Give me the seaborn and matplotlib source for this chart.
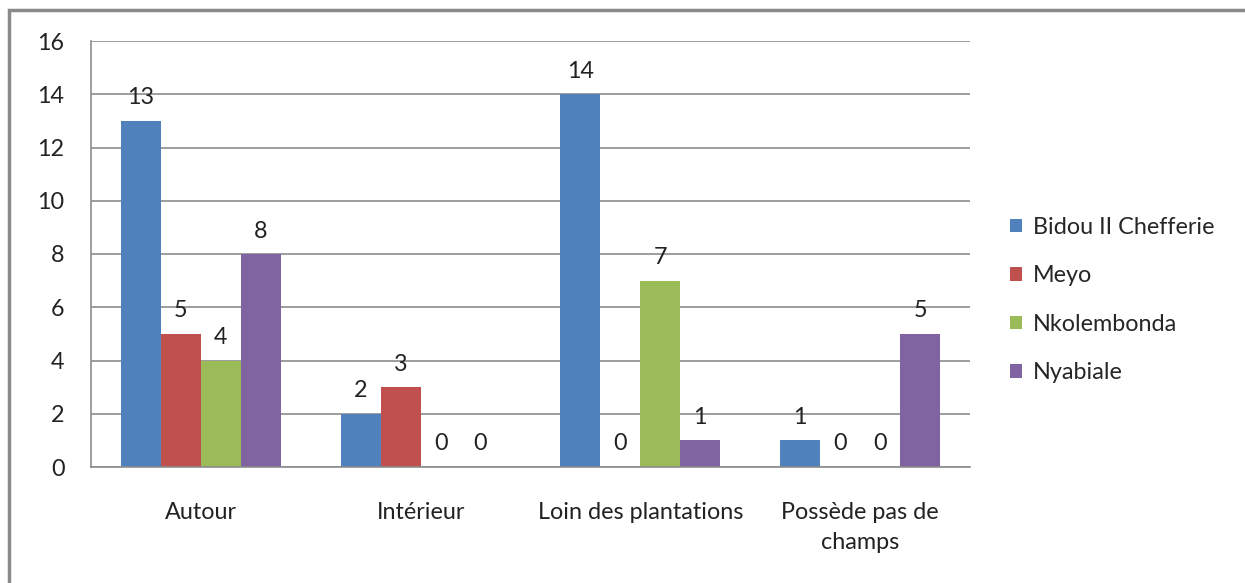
import matplotlib
matplotlib.use("Agg")
import matplotlib.pyplot as plt
import matplotlib.patches as mpatches
import pandas as pd
import seaborn as sns

categories = ["Autour", "Intérieur", "Loin des plantations", "Possède pas de\nchamps"]
series = ["Bidou II Chefferie", "Meyo", "Nkolembonda", "Nyabiale"]
bidou = [13, 2, 14, 1]
meyo = [5, 3, 0, 0]
nkolembonda = [4, 0, 7, 0]
nyabiale = [8, 0, 1, 5]
colors = ["#4F81BD", "#C0504D", "#9BBB59", "#8064A2"]

rows = []
for name, vals in zip(series, [bidou, meyo, nkolembonda, nyabiale]):
    for cat, v in zip(categories, vals):
        rows.append({"Lieu": cat, "Village": name, "Valeur": v})
df = pd.DataFrame(rows)

sns.set_style("white")
plt.rcParams["font.family"] = ["Lato", "DejaVu Sans"]
fs = 16.8

fig = plt.figure(figsize=(12.45, 5.83), dpi=100)
ax = fig.add_axes([91 / 1245, 1 - 467 / 583, (970 - 91) / 1245, (467 - 41) / 583])

sns.barplot(data=df, x="Lieu", y="Valeur", hue="Village", order=categories,
            hue_order=series, palette=colors, width=0.727, ax=ax,
            saturation=1, legend=True, errorbar=None, linewidth=0)

for cont in ax.containers:
    ax.bar_label(cont, fmt="%g", padding=9, fontsize=fs, color="#222222")

ax.set_ylim(0, 16)
ax.set_xlim(-0.5, 3.5)
ax.set_yticks(range(0, 17, 2))
ax.set_xlabel("")
ax.set_ylabel("")
ax.grid(axis="y", color="#8C8C8C", linewidth=1.2)
ax.set_axisbelow(True)

for side in ["top", "right"]:
    ax.spines[side].set_visible(False)
for side in ["left", "bottom"]:
    ax.spines[side].set_color("#8C8C8C")
    ax.spines[side].set_linewidth(1.2)

ax.tick_params(axis="y", length=9, width=1.2, color="#8C8C8C", labelsize=fs,
               pad=10, labelcolor="#222222")
ax.tick_params(axis="x", which="major", length=0, labelsize=fs, pad=25,
               labelcolor="#222222")
for lbl in ax.get_xticklabels():
    lbl.set_linespacing(1.55)
ax.set_xticks([-0.5, 0.5, 1.5, 2.5, 3.5], minor=True)
ax.tick_params(axis="x", which="minor", length=9, width=1.2, color="#8C8C8C",
               direction="out")

leg = ax.legend(loc="center left", bbox_to_anchor=(1.022, 0.392), frameon=False,
                fontsize=fs, handlelength=0.5, handleheight=0.5,
                handletextpad=0.45, labelspacing=1.18)

frame = mpatches.Rectangle((9 / 1245, -0.2), 1.2, 0.2 + 1 - 10 / 583,
                           transform=fig.transFigure, fill=False,
                           edgecolor="#8A8A8A", linewidth=2.5, clip_on=False)
fig.patches.append(frame)

fig.savefig("out.png", dpi=100)
